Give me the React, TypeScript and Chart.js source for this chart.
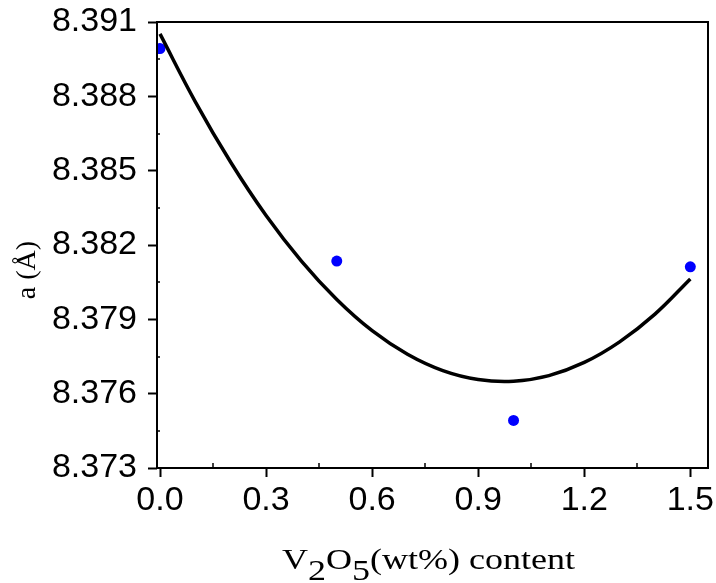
import React, { useEffect, useRef } from 'react';
import { Chart, registerables } from 'chart.js';

Chart.register(...registerables);

// Fitted curve
const curveX = [0, 0.1, 0.2, 0.3, 0.4, 0.5, 0.6, 0.7, 0.8, 0.9, 1.0, 1.1, 1.2, 1.3, 1.4, 1.5];
const curveY = [8.39052, 8.38778, 8.38534, 8.38319, 8.38135, 8.3798, 8.37854, 8.37759, 8.37693, 8.37657, 8.3765, 8.37673, 8.37726, 8.37809, 8.37921, 8.38063];

// Measured points
const pointX = [0, 0.5, 1.0, 1.5];
const pointY = [8.38993, 8.38135, 8.37492, 8.38112];

// Ticks
const xTicks = [0, 0.3, 0.6, 0.9, 1.2, 1.5];
const yTicks = [8.373, 8.376, 8.379, 8.382, 8.385, 8.388, 8.391];
const xMinorTicks = [0.15, 0.45, 0.75, 1.05, 1.35];
const yMinorTicks = [8.3745, 8.3775, 8.3805, 8.3835, 8.3865, 8.3895];

// Titles
const xTitleParts = [
  { text: 'V', sub: false },
  { text: '2', sub: true },
  { text: 'O', sub: false },
  { text: '5', sub: true },
  { text: '(wt%) content', sub: false },
];
const yTitle = 'a (Å)';

const decorPlugin = {
  id: 'decor',
  afterDraw(chart: any) {
    const ctx = chart.ctx as CanvasRenderingContext2D;
    const { left, right, top, bottom } = chart.chartArea;
    const xs = chart.scales.x;
    const ys = chart.scales.y;
    ctx.save();
    ctx.strokeStyle = '#000';
    ctx.lineWidth = 2;
    ctx.strokeRect(left, top, right - left, bottom - top);

    // minor ticks
    ctx.lineWidth = 1.5;
    ctx.beginPath();
    for (const v of xMinorTicks) {
      const px = Math.round(xs.getPixelForValue(v));
      ctx.moveTo(px, bottom);
      ctx.lineTo(px, bottom - 5);
    }
    for (const v of yMinorTicks) {
      const py = Math.round(ys.getPixelForValue(v));
      ctx.moveTo(left, py);
      ctx.lineTo(left + 3, py);
    }
    ctx.stroke();

    // x title
    ctx.fillStyle = '#000';
    ctx.textBaseline = 'alphabetic';
    ctx.textAlign = 'left';
    ctx.font = '30px "Liberation Serif", "Times New Roman", serif';
    ctx.save();
    ctx.translate(282, 569);
    ctx.scale(1.2, 1);
    let x = 0;
    for (const p of xTitleParts) {
      ctx.fillText(p.text, x, p.sub ? 11 : 0);
      x += ctx.measureText(p.text).width;
    }
    ctx.restore();

    // y title
    ctx.save();
    ctx.font = '28px "Liberation Serif", "Times New Roman", serif';
    ctx.translate(28, 270);
    ctx.rotate(-Math.PI / 2);
    ctx.textAlign = 'center';
    ctx.textBaseline = 'middle';
    ctx.fillText(yTitle, 0, 0);
    ctx.restore();

    ctx.restore();
  },
};

export default function App() {
  const canvasRef = useRef<HTMLCanvasElement | null>(null);

  useEffect(() => {
    document.body.style.margin = '0';
    const canvas = canvasRef.current;
    if (!canvas) return;
    const tickFont = { family: '"Liberation Sans", Arial, sans-serif', size: 34 };
    const chart = new Chart(canvas, {
      type: 'scatter',
      data: {
        datasets: [
          {
            type: 'line',
            data: curveX.map((xv, i) => ({ x: xv, y: curveY[i] })),
            borderColor: '#000',
            borderWidth: 3.5,
            pointRadius: 0,
            tension: 0.4,
            fill: false,
          } as any,
          {
            type: 'scatter',
            data: pointX.map((xv, i) => ({ x: xv, y: pointY[i] })),
            backgroundColor: '#0000ff',
            borderColor: '#0000ff',
            borderWidth: 0,
            pointRadius: 5.5,
          },
        ],
      },
      options: {
        animation: false,
        responsive: true,
        maintainAspectRatio: false,
        layout: { padding: { top: 22, right: 8, left: 0, bottom: 0 } },
        plugins: { legend: { display: false }, tooltip: { enabled: false } },
        scales: {
          x: {
            type: 'linear',
            min: -0.0085,
            max: 1.55,
            afterBuildTicks: (s: any) => {
              s.ticks = xTicks.map((v) => ({ value: v }));
            },
            afterFit: (s: any) => {
              s.height = 115;
              s.paddingLeft = 0;
              s.paddingRight = 0;
            },
            ticks: {
              color: '#000',
              font: tickFont,
              padding: 3,
              maxRotation: 0,
              autoSkip: false,
              callback: (v: any) => Number(v).toFixed(1),
            },
            grid: {
              drawOnChartArea: false,
              drawTicks: true,
              tickLength: 9,
              tickWidth: 2,
              tickColor: '#000',
            },
            border: { display: false },
          },
          y: {
            type: 'linear',
            min: 8.373,
            max: 8.391,
            afterBuildTicks: (s: any) => {
              s.ticks = yTicks.map((v) => ({ value: v }));
            },
            afterFit: (s: any) => {
              s.width = 157;
              s.paddingTop = 0;
              s.paddingBottom = 0;
            },
            ticks: {
              color: '#000',
              font: tickFont,
              padding: 11,
              autoSkip: false,
              callback: (v: any) => Number(v).toFixed(3),
            },
            grid: {
              drawOnChartArea: false,
              drawTicks: true,
              tickLength: 9,
              tickWidth: 2,
              tickColor: '#000',
            },
            border: { display: false },
          },
        },
      },
      plugins: [decorPlugin],
    });
    return () => chart.destroy();
  }, []);

  return (
    <div style={{ position: 'relative', width: 716, height: 583, background: '#fff' }}>
      <canvas ref={canvasRef} />
    </div>
  );
}
